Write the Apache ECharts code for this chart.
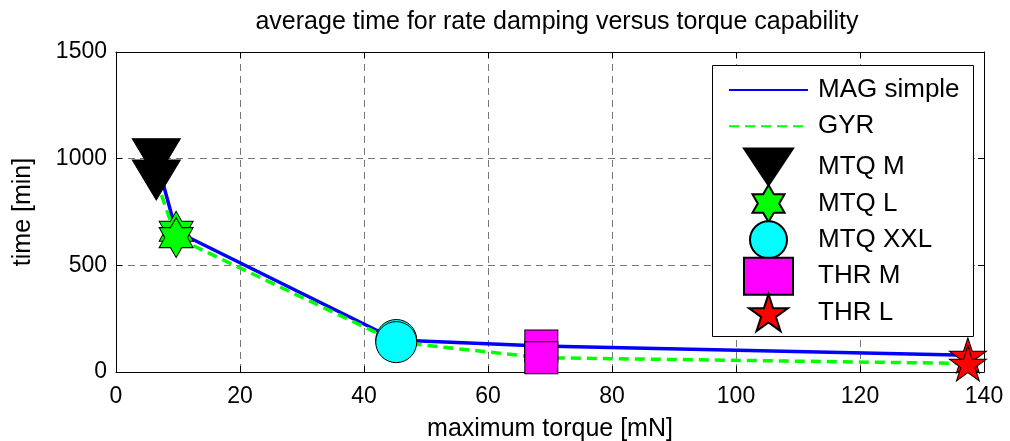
<!DOCTYPE html>
<html>
<head>
<meta charset="utf-8">
<script src="https://cdn.jsdelivr.net/npm/echarts@6/dist/echarts.min.js"></script>
<style>
html, body { margin: 0; padding: 0; background: #fff; }
#container { width: 1010px; height: 441px; }
</style>
</head>
<body>
<div id="container"></div>
<script>
// torque of each actuator [mN] and damping time [min]
var torque = [6.5, 9.7, 45.2, 68.6, 137.4];
var actuators = ['MTQ M', 'MTQ L', 'MTQ XXL', 'THR M', 'THR L'];
var magSimple = [1000, 660, 150, 122, 78];
var gyr = [900, 630, 140, 67, 40];
var xTicks = [0, 20, 40, 60, 80, 100, 120, 140];
var yTicks = [0, 500, 1000, 1500];

function starPath(n, inner) {
    var pts = [];
    for (var i = 0; i < 2 * n; i++) {
        var r = i % 2 == 0 ? 100 : 100 * inner;
        var a = -Math.PI / 2 + i * Math.PI / n;
        pts.push((r * Math.cos(a)).toFixed(2) + ',' + (r * Math.sin(a)).toFixed(2));
    }
    return 'path://M' + pts.join('L') + 'Z';
}

var markers = [
    {symbol: 'path://M0,0L49,0L24.5,37Z', size: [48, 40], color: '#000000'},
    {symbol: starPath(6, 0.577), size: [34, 40], color: '#00ff00'},
    {symbol: 'circle', size: 41, color: '#00ffff'},
    {symbol: 'rect', size: [33, 32], color: '#ff00ff'},
    {symbol: starPath(5, 0.382), size: [37, 35], color: '#ff0000'}
];

var dom = document.getElementById("container");
var myChart = echarts.init(dom);

var series = [
    {
        name: 'MAG simple', type: 'line', symbol: 'none',
        data: torque.map(function (t, i) { return [t, magSimple[i]]; }),
        lineStyle: {color: '#0000ff', width: 3.5},
        itemStyle: {color: '#0000ff'}
    },
    {
        name: 'GYR', type: 'line', symbol: 'none',
        data: torque.map(function (t, i) { return [t, gyr[i]]; }),
        lineStyle: {color: '#00ff00', width: 3.5, type: [10, 6]},
        itemStyle: {color: '#00ff00'}
    }
];
for (var i = 0; i < actuators.length; i++) {
    series.push({
        name: actuators[i], type: 'scatter',
        symbol: markers[i].symbol,
        symbolSize: markers[i].size,
        data: [[torque[i], magSimple[i]], [torque[i], gyr[i]]],
        itemStyle: {color: markers[i].color, borderColor: '#000', borderWidth: 1, opacity: 1},
        emphasis: {disabled: true},
        z: 3
    });
}

var legendText = {fontFamily: 'Liberation Sans', fontSize: 26, lineHeight: 26, color: '#000'};

option = {
    animation: false,
    title: {
        text: 'average time for rate damping versus torque capability',
        left: 552, top: 5, textAlign: 'center',
        textStyle: {fontFamily: 'Liberation Sans', fontWeight: 'normal', fontSize: 25, color: '#000'}
    },
    graphic: [{
        type: 'rect', left: 712, top: 65, z: 10,
        shape: {width: 261, height: 271},
        style: {fill: '#fff', stroke: '#000', lineWidth: 1}
    }],
    legend: [{
        orient: 'vertical', left: 728, top: 77, padding: 0,
        itemWidth: 79, itemHeight: 14, itemGap: 10.2,
        data: [
            {name: 'MAG simple', itemStyle: {opacity: 0}},
            {name: 'GYR', itemStyle: {opacity: 0}}
        ],
        textStyle: Object.assign({padding: [0, 0, 0, 5]}, legendText),
        selectedMode: false, z: 11
    }, {
        orient: 'vertical', left: 743, top: 147.5, padding: 0,
        itemWidth: 49, itemHeight: 37, itemGap: -2.6,
        data: actuators,
        textStyle: Object.assign({padding: [0, 0, 0, 20]}, legendText),
        selectedMode: false, z: 11
    }],
    grid: {left: 116, right: 26, top: 52, bottom: 69, outerBoundsMode: 'none', containLabel: false},
    xAxis: [{
        type: 'value', min: xTicks[0], max: xTicks[xTicks.length - 1], interval: 20,
        name: 'maximum torque [mN]', nameLocation: 'middle', nameGap: 45,
        nameTextStyle: {fontFamily: 'Liberation Sans', fontSize: 25, color: '#000'},
        axisLine: {show: true, lineStyle: {color: '#000', width: 1}},
        axisTick: {show: true, inside: true, length: 6, lineStyle: {color: '#000'}},
        axisLabel: {fontFamily: 'Liberation Sans', color: '#000', fontSize: 23, margin: 13},
        splitLine: {show: true, lineStyle: {color: '#777', width: 1, type: [7, 5]}}
    }, {
        type: 'value', position: 'top', min: xTicks[0], max: xTicks[xTicks.length - 1], interval: 20,
        axisLine: {show: true, onZero: false, lineStyle: {color: '#000', width: 1}},
        axisTick: {show: true, inside: true, length: 6, lineStyle: {color: '#000'}},
        axisLabel: {show: false}, splitLine: {show: false}
    }],
    yAxis: [{
        type: 'value', min: yTicks[0], max: yTicks[yTicks.length - 1], interval: 500,
        name: 'time [min]', nameLocation: 'middle', nameGap: 80,
        nameTextStyle: {fontFamily: 'Liberation Sans', fontSize: 25, color: '#000'},
        axisLine: {show: true, lineStyle: {color: '#000', width: 1}},
        axisTick: {show: true, inside: true, length: 6, lineStyle: {color: '#000'}},
        axisLabel: {
            fontFamily: 'Liberation Sans', color: '#000', fontSize: 23, margin: 9,
            formatter: function (v) { return String(v); }
        },
        splitLine: {show: true, lineStyle: {color: '#777', width: 1, type: [7, 5]}}
    }, {
        type: 'value', position: 'right', min: yTicks[0], max: yTicks[yTicks.length - 1], interval: 500,
        axisLine: {show: true, onZero: false, lineStyle: {color: '#000', width: 1}},
        axisTick: {show: true, inside: true, length: 6, lineStyle: {color: '#000'}},
        axisLabel: {show: false}, splitLine: {show: false}
    }],
    series: series
};
if (option && typeof option === "object") {
    myChart.setOption(option, true);
}
</script>
</body>
</html>
